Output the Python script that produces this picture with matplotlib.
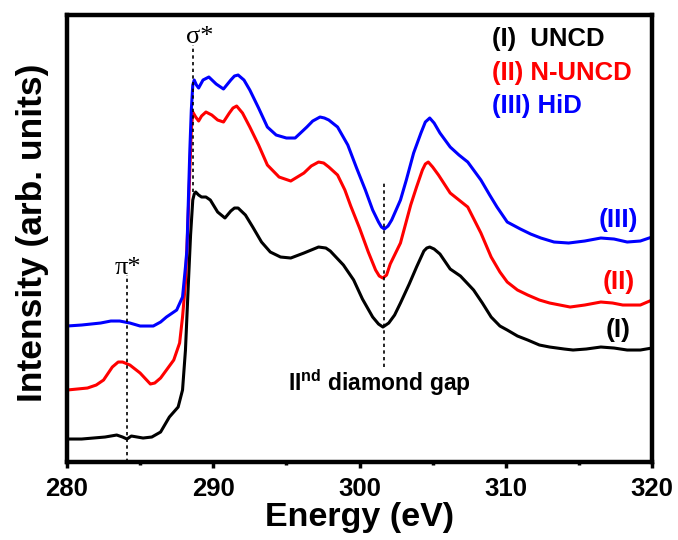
import matplotlib
matplotlib.use("Agg")
import matplotlib.pyplot as plt
import numpy as np

plt.rcParams['font.family'] = ['Liberation Sans', 'DejaVu Sans']
plt.rcParams['font.weight'] = 'bold'
plt.rcParams['mathtext.fontset'] = 'custom'
plt.rcParams['mathtext.rm'] = 'Liberation Sans:bold'
plt.rcParams['mathtext.bf'] = 'Liberation Sans:bold'

# C K-edge NEXAFS spectra, offset for clarity
e_uncd = [280.0, 281.0, 281.8, 282.6, 283.4, 283.8, 284.1, 284.4, 284.8, 285.2,
          285.8, 286.4, 287.0, 287.6, 287.9, 288.1, 288.3, 288.45, 288.6, 288.7,
          288.8, 289.0, 289.2, 289.5, 289.8, 290.3, 290.8, 291.2, 291.45, 291.7,
          292.2, 292.7, 293.3, 293.9, 294.6, 295.3, 296.2, 296.7, 297.2, 297.7,
          298.0, 298.9, 299.6, 300.2, 300.9, 301.3, 301.6, 302.0, 302.4, 302.8,
          303.4, 303.9, 304.4, 304.6, 304.8, 305.1, 305.5, 306.2, 306.9, 307.8,
          308.4, 309.0, 309.6, 310.1, 310.8, 311.5, 312.3, 313.0, 314.0, 314.6,
          315.5, 316.5, 317.4, 318.3, 319.2, 320.0]
i_uncd = [0.23, 0.23, 0.24, 0.25, 0.27, 0.25, 0.23, 0.26, 0.25, 0.24,
          0.25, 0.30, 0.45, 0.55, 0.72, 1.12, 1.79, 2.27, 2.62, 2.68,
          2.70, 2.67, 2.65, 2.65, 2.62, 2.50, 2.44, 2.51, 2.54, 2.54,
          2.47, 2.35, 2.20, 2.10, 2.05, 2.04, 2.09, 2.12, 2.15, 2.14,
          2.11, 1.97, 1.82, 1.63, 1.45, 1.38, 1.35, 1.39, 1.47, 1.59,
          1.78, 1.95, 2.11, 2.14, 2.15, 2.13, 2.08, 1.93, 1.86, 1.72,
          1.59, 1.45, 1.36, 1.32, 1.26, 1.22, 1.17, 1.15, 1.13, 1.12,
          1.13, 1.15, 1.14, 1.12, 1.12, 1.14]

e_nuncd = [280.0, 281.4, 282.0, 282.5, 283.1, 283.5, 283.8, 284.3, 285.0, 285.7,
           286.0, 286.4, 287.3, 287.7, 287.9, 288.1, 288.25, 288.4, 288.5, 288.6,
           288.8, 289.0, 289.2, 289.5, 289.9, 290.3, 290.7, 291.1, 291.35, 291.6,
           292.0, 292.5, 293.1, 293.7, 294.5, 295.3, 296.2, 296.7, 297.2, 297.55,
           297.9, 298.5, 299.0, 299.4, 300.0, 300.6, 301.1, 301.35, 301.6, 301.85,
           302.1, 302.8, 303.5, 303.9, 304.3, 304.5, 304.7, 305.0, 305.4, 306.2,
           306.8, 307.4, 308.3, 309.0, 309.6, 310.1, 310.8, 311.5, 312.3, 313.0,
           314.4, 315.4, 316.5, 317.3, 318.0, 319.2, 320.0]
i_nuncd = [0.72, 0.74, 0.77, 0.82, 0.95, 1.00, 1.00, 0.97, 0.89, 0.78,
           0.79, 0.84, 1.02, 1.19, 1.45, 1.79, 2.32, 2.92, 3.32, 3.50,
           3.45, 3.41, 3.46, 3.50, 3.47, 3.42, 3.40, 3.49, 3.54, 3.56,
           3.49, 3.35, 3.17, 2.97, 2.85, 2.81, 2.89, 2.96, 3.00, 2.99,
           2.95, 2.87, 2.72, 2.56, 2.34, 2.10, 1.92, 1.86, 1.84, 1.87,
           1.98, 2.19, 2.57, 2.75, 2.92, 2.98, 3.00, 2.95, 2.87, 2.69,
           2.62, 2.55, 2.29, 2.05, 1.90, 1.80, 1.72, 1.67, 1.62, 1.59,
           1.55, 1.57, 1.60, 1.59, 1.57, 1.57, 1.62]

e_hid = [280.0, 281.0, 282.3, 283.0, 283.6, 284.3, 285.0, 285.9, 286.4, 286.8,
         287.5, 287.9, 288.1, 288.2, 288.3, 288.4, 288.5, 288.6, 288.7, 288.85,
         289.0, 289.3, 289.7, 290.2, 290.7, 291.2, 291.45, 291.7, 292.1, 292.5,
         293.1, 293.7, 294.3, 295.0, 295.6, 296.4, 296.8, 297.3, 297.6, 297.9,
         298.5, 299.2, 299.8, 300.4, 300.9, 301.3, 301.5, 301.7, 301.95, 302.2,
         302.8, 303.2, 303.7, 304.2, 304.5, 304.8, 305.1, 305.5, 306.2, 306.8,
         307.4, 308.3, 308.9, 309.4, 310.1, 311.0, 311.7, 312.4, 313.3, 314.3,
         315.4, 316.5, 317.4, 318.3, 319.2, 320.0]
i_hid = [1.36, 1.37, 1.39, 1.41, 1.41, 1.39, 1.36, 1.36, 1.40, 1.45,
         1.52, 1.65, 1.95, 2.12, 2.62, 3.12, 3.52, 3.77, 3.82, 3.77,
         3.74, 3.82, 3.85, 3.78, 3.73, 3.82, 3.86, 3.87, 3.82, 3.72,
         3.54, 3.35, 3.27, 3.24, 3.24, 3.35, 3.41, 3.45, 3.44, 3.42,
         3.35, 3.17, 2.94, 2.72, 2.52, 2.40, 2.35, 2.33, 2.36, 2.42,
         2.62, 2.82, 3.09, 3.29, 3.40, 3.44, 3.39, 3.29, 3.15, 3.07,
         3.00, 2.82, 2.67, 2.55, 2.40, 2.33, 2.28, 2.24, 2.20, 2.19,
         2.21, 2.24, 2.23, 2.20, 2.21, 2.25]

series = [
    (e_uncd, i_uncd, 'black', '(I)  UNCD', '(I)', 1.32),
    (e_nuncd, i_nuncd, 'red', '(II) N-UNCD', '(II)', 1.80),
    (e_hid, i_hid, 'blue', '(III) HiD', '(III)', 2.42),
]

fig = plt.figure(figsize=(6.78, 5.40), dpi=100)
ax = fig.add_axes([0.0988, 0.1444, 0.8629, 0.8278])

for e, inten, col, name, tag, ytag in series:
    ax.plot(e, inten, color=col, lw=2.2, solid_joinstyle='round')
    ax.text(317.7, ytag, tag, color=col, fontsize=19, fontweight='bold',
            ha='center', va='center')

# sample names, top right
for k, (e, inten, col, name, tag, ytag) in enumerate(series):
    ax.text(309.07, 4.16 - 0.335 * k, name, color=col, fontsize=18.5,
            fontweight='bold', ha='left', va='baseline')

# peak markers
ax.plot([288.6, 288.6], [2.70, 4.17], color='black', lw=1.2, ls=(0, (2, 2)))
ax.text(289.1, 4.19, r'σ*', family=['Liberation Serif', 'DejaVu Serif'],
        fontsize=19, fontweight='normal', ha='center', va='baseline')
ax.plot([284.1, 284.1], [0.0, 1.87], color='black', lw=1.2, ls=(0, (2, 2)))
ax.text(284.2, 1.88, r'π*', family=['Liberation Serif', 'DejaVu Serif'],
        fontsize=19, fontweight='normal', ha='center', va='baseline')
ax.plot([301.7, 301.7], [0.95, 2.80], color='black', lw=1.2, ls=(0, (2, 2)))
ax.text(295.1, 0.71, r'II$^{\mathbf{nd}}$ diamond gap', fontsize=16.5,
        fontweight='bold', ha='left', va='baseline')

ax.set_xlim(280, 320)
ax.set_ylim(0, 4.47)
ax.set_xticks(np.arange(280, 321, 10))
ax.set_xticks(np.arange(285, 320, 10), minor=True)
ax.set_yticks([])
ax.tick_params(axis='x', which='major', direction='out', length=4.5, width=2.5,
               pad=6, labelsize=18.5)
ax.tick_params(axis='x', which='minor', direction='out', length=2.5, width=2.5)
for lab in ax.get_xticklabels():
    lab.set_fontweight('bold')
for sp in ax.spines.values():
    sp.set_linewidth(3.2)

ax.set_xlabel('Energy (eV)', fontsize=24.5, fontweight='bold', labelpad=1)
ax.set_ylabel('Intensity (arb. units)', fontsize=25.5, fontweight='bold')
ax.yaxis.set_label_coords(-0.03, 0.513)

fig.savefig('out.png', dpi=100)
